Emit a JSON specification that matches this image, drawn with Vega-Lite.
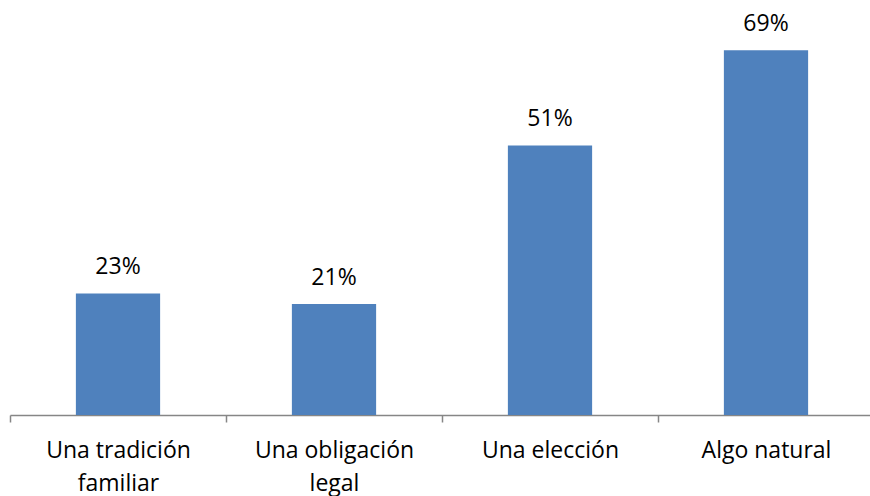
{
  "$schema": "https://vega.github.io/schema/vega-lite/v6.json",
  "width": 864,
  "height": 370,
  "autosize": {"type": "none"},
  "padding": {"left": 10, "top": 45, "right": 0, "bottom": 81},
  "background": "white",
  "config": {"view": {"stroke": null}, "font": "Open Sans"},
  "data": {"values": [
    {"categoria": "Una tradición familiar", "valor": 0.23},
    {"categoria": "Una obligación legal", "valor": 0.21},
    {"categoria": "Una elección", "valor": 0.51},
    {"categoria": "Algo natural", "valor": 0.69}
  ]},
  "encoding": {
    "x": {"field": "categoria", "type": "nominal", "sort": null,
      "scale": {"paddingInner": 0.61, "paddingOuter": 0.305},
      "axis": {"title": null, "labelAngle": 0, "labelFontSize": 23, "labelColor": "#000000",
        "labelLineHeight": 33, "labelPadding": 17, "labelBaseline": "top",
        "domainColor": "#868686", "domainWidth": 1.5, "ticks": true, "tickColor": "#868686", "tickWidth": 1.5, "tickSize": 7, "tickOffset": -108, "labelOffset": 108,
        "labelExpr": "datum.label == 'Una tradición familiar' ? ['Una tradición', 'familiar'] : datum.label == 'Una obligación legal' ? ['Una obligación', 'legal'] : datum.label"}},
    "y": {"field": "valor", "type": "quantitative", "scale": {"domain": [0, 0.7]}, "axis": null}
  },
  "layer": [
    {"mark": {"type": "bar", "color": "#4F81BD"}},
    {"mark": {"type": "text", "baseline": "bottom", "dy": -14, "fontSize": 23, "color": "#000000"},
     "encoding": {"text": {"field": "valor", "type": "quantitative", "format": ".0%"}}}
  ]
}
